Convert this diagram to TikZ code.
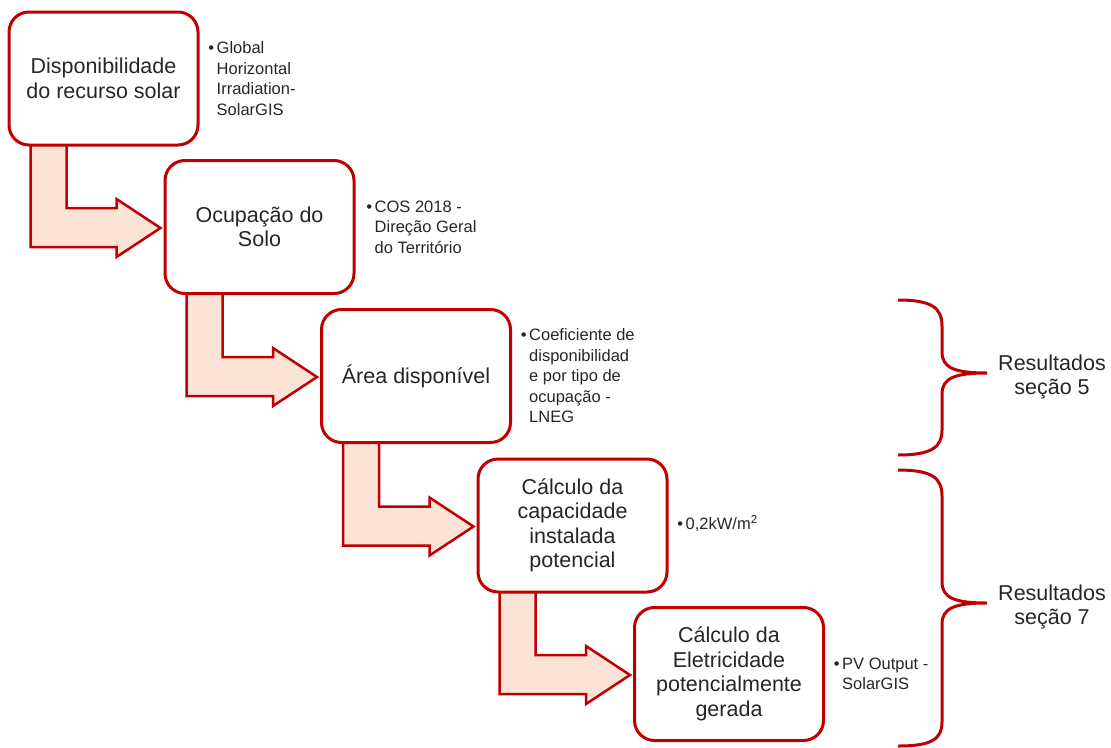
\documentclass[tikz,border=0pt]{standalone}
\usepackage{fontspec}
\setmainfont{Liberation Sans}
\usetikzlibrary{calc,backgrounds}
\definecolor{dred}{HTML}{C00000}
\definecolor{peach}{HTML}{FBE3D6}
\definecolor{txt}{HTML}{262626}
\tikzset{
  stepbox/.style={draw=dred, line width=3pt, fill=white, rounded corners=20pt,
    minimum width=189pt, minimum height=133pt, align=center, text=txt,
    inner sep=2pt, font=\fontsize{21.5}{24.5}\selectfont},
  note/.style={anchor=west, align=left, text=txt, inner sep=0pt,
    font=\fontsize{16.5}{20.5}\selectfont},
  bentarrow/.style={draw=dred, line width=2.5pt, fill=peach, line join=miter},
  bracepath/.style={draw=dred, line width=3pt},
  result/.style={align=center, text=txt, inner sep=0pt,
    font=\fontsize{21.5}{23.5}\selectfont}
}
\newcommand{\bul}{\llap{•\hspace{2.5pt}}}
\begin{document}
\begin{tikzpicture}[x=1pt,y=-1pt]
\useasboundingbox (0,0) rectangle (1111,747);
\node[stepbox] (b1) at (103.5,78.5) {Disponibilidade\\do recurso solar};
\node[stepbox] (b2) at (259.5,227) {Ocupação do\\Solo};
\node[stepbox] (b3) at (416,376) {Área disponível};
\node[stepbox] (b4) at (572.5,525.5) {Cálculo da\\capacidade\\instalada\\potencial};
\node[stepbox] (b5) at (729,674) {Cálculo da\\Eletricidade\\potencialmente\\gerada};

\node[note] (n1) at ($(b1.east)+(17,0)$) {\bul Global\\Horizontal\\Irradiation-\\SolarGIS};
\node[note] (n2) at ($(b2.east)+(19,0)$) {\bul COS 2018 -\\Direção Geral\\do Território};
\node[note] (n3) at ($(b3.east)+(17,0)$) {\bul Coeficiente de\\disponibilidad\\e por tipo de\\ocupação -\\LNEG};
\node[note] (n4) at ($(b4.east)+(17,-2)$) {\bul 0,2kW/m\textsuperscript{2}};
\node[note] (n5) at ($(b5.east)+(17,0)$) {\bul PV Output -\\SolarGIS};

\begin{scope}[on background layer]
\foreach \a/\b in {b1/b2,b2/b3,b3/b4,b4/b5}{
  \draw[bentarrow] ($(\a.south west)+(23,-3)$) coordinate (s)
    |- ($(\b.west)+(-47,20)$) -- ++(0,10) -- ($(\b.west)+(-3,1)$)
    -- ($(\b.west)+(-47,-28)$) -- ++(0,9) -| ($(s)+(36,0)$) -- cycle;
}
\end{scope}

\draw[bracepath] (898,300) .. controls (932,300) and (942,308) .. (942,326)
  -- (942,352) .. controls (942,368) and (955,373) .. (987,373)
  .. controls (955,373) and (942,378) .. (942,394)
  -- (942,430) .. controls (942,447) and (932,455) .. (898,455);
\draw[bracepath] (898,470) .. controls (932,470) and (942,478) .. (942,496)
  -- (942,582) .. controls (942,598) and (955,603) .. (987,603)
  .. controls (955,603) and (942,608) .. (942,624)
  -- (942,722) .. controls (942,739) and (932,746) .. (898,746);

\node[result] (r1) at (1052,377) {Resultados\\seção 5};
\node[result] (r2) at (1052,607) {Resultados\\seção 7};
\end{tikzpicture}
\end{document}
